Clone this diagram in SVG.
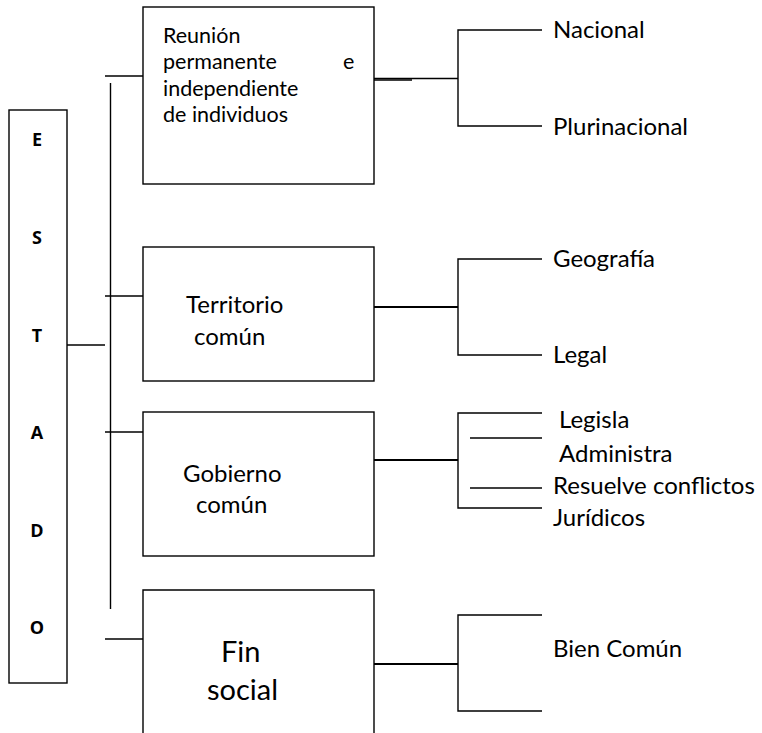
<svg xmlns="http://www.w3.org/2000/svg" width="762" height="733" viewBox="0 0 762 733">
<style>
  .box { fill: #ffffff; stroke: #000000; stroke-width: 1.4; }
  .ln { stroke: #000000; stroke-width: 1.4; fill: none; }
  .ln2 { stroke: #000000; stroke-width: 2; fill: none; }
  .t { font-family: Lato, "Open Sans", "Liberation Sans", sans-serif; font-size: 24px; fill: #000000; }
  .t1 { font-family: Lato, "Open Sans", "Liberation Sans", sans-serif; font-size: 21.5px; fill: #000000; }
  .big { font-family: Lato, "Open Sans", "Liberation Sans", sans-serif; font-size: 29px; fill: #000000; }
  .b { font-family: "Open Sans", Lato, "Liberation Sans", sans-serif; font-size: 18px; font-weight: bold; fill: #000000; text-anchor: middle; }
</style>
<rect width="762" height="733" fill="#ffffff"/>
<g id="connectors">
  <line class="ln" x1="67" y1="345" x2="105" y2="345"/>
  <line class="ln" x1="110.5" y1="83" x2="110.5" y2="609"/>
  <line class="ln" x1="105" y1="76" x2="143" y2="76"/>
  <line class="ln" x1="105" y1="296" x2="143" y2="296"/>
  <line class="ln" x1="105" y1="432" x2="143" y2="432"/>
  <line class="ln" x1="105" y1="639" x2="143" y2="639"/>
  <line class="ln" x1="374" y1="78.5" x2="458" y2="78.5"/>
  <line class="ln" x1="374" y1="80" x2="412" y2="80"/>
  <polyline class="ln" points="542,30 458,30 458,126 542,126"/>
  <line class="ln2" x1="374" y1="307" x2="458" y2="307"/>
  <polyline class="ln" points="542,259 458,259 458,355 542,355"/>
  <line class="ln2" x1="374" y1="460" x2="458" y2="460"/>
  <polyline class="ln" points="542,413 458,413 458,508 542,508"/>
  <line class="ln" x1="470" y1="438" x2="542" y2="438"/>
  <line class="ln" x1="470" y1="488" x2="542" y2="488"/>
  <line class="ln2" x1="374" y1="664" x2="458" y2="664"/>
  <polyline class="ln" points="542,615 458,615 458,711 542,711"/>
</g>
<g id="estado">
  <rect class="box" x="9" y="110" width="58" height="573"/>
  <text class="b" x="37" y="146">E</text>
  <text class="b" x="37" y="244">S</text>
  <text class="b" x="37" y="342">T</text>
  <text class="b" x="37" y="439">A</text>
  <text class="b" x="37" y="537">D</text>
  <text class="b" x="37" y="634">O</text>
</g>
<g id="reunion">
  <rect class="box" x="143" y="7" width="231" height="177"/>
  <text class="t1" x="163" y="43">Reunión</text>
  <text class="t1" x="163" y="69">permanente</text>
  <text class="t1" x="343" y="69">e</text>
  <text class="t1" x="163" y="96">independiente</text>
  <text class="t1" x="163" y="122">de individuos</text>
</g>
<g id="territorio">
  <rect class="box" x="143" y="247" width="231" height="134"/>
  <text class="t" x="186" y="313">Territorio</text>
  <text class="t" x="194" y="345">común</text>
</g>
<g id="gobierno">
  <rect class="box" x="143" y="412" width="231" height="144"/>
  <text class="t" x="183" y="482">Gobierno</text>
  <text class="t" x="196" y="513">común</text>
</g>
<g id="fin">
  <path class="box" d="M143,735 L143,590 L374,590 L374,735"/>
  <text class="big" x="221" y="662">Fin</text>
  <text class="big" x="207" y="700">social</text>
</g>
<g id="labels">
  <text class="t" x="553" y="38">Nacional</text>
  <text class="t" x="553" y="135">Plurinacional</text>
  <text class="t" x="553" y="267">Geografía</text>
  <text class="t" x="553" y="363">Legal</text>
  <text class="t" x="559" y="428">Legisla</text>
  <text class="t" x="559" y="462">Administra</text>
  <text class="t" x="553" y="494">Resuelve conflictos</text>
  <text class="t" x="553" y="526">Jurídicos</text>
  <text class="t" x="553" y="657">Bien Común</text>
</g>
</svg>
